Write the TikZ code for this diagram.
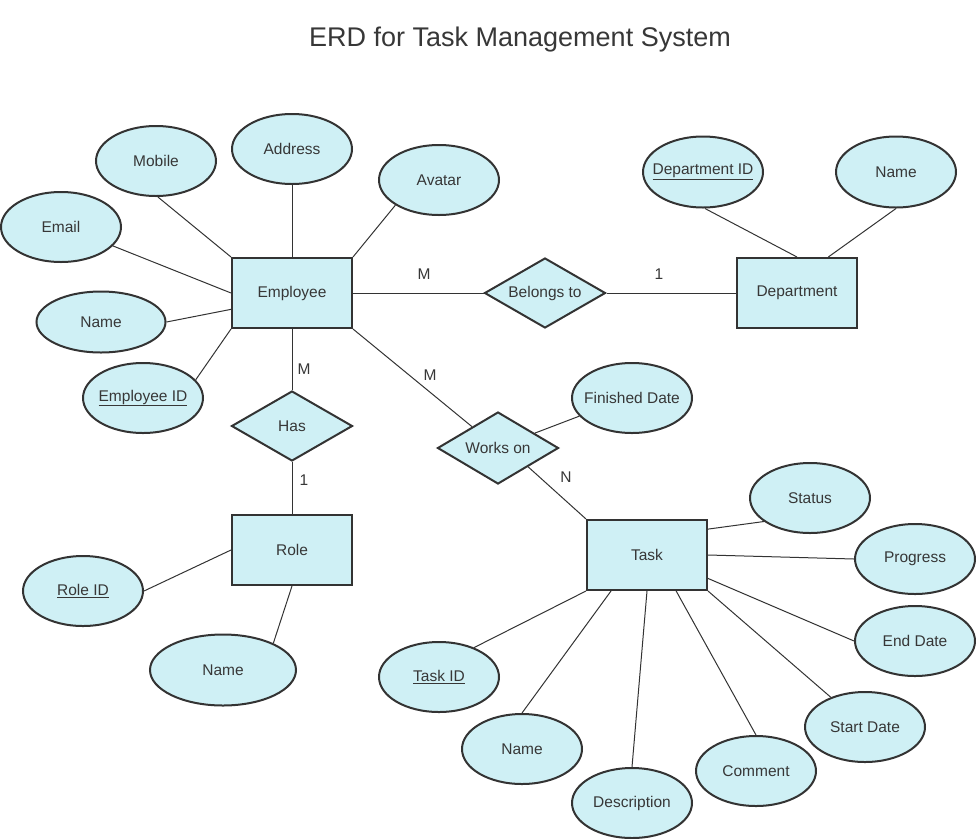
\documentclass[tikz,border=0pt]{standalone}
\usepackage{fontspec}
\setmainfont{Liberation Sans}
\usetikzlibrary{shapes.geometric}
\definecolor{fillc}{RGB}{207,240,245}
\definecolor{linec}{RGB}{51,51,51}
\definecolor{textc}{RGB}{55,55,55}
\newcommand{\zb}[1]{\makebox[0pt][c]{#1}}
\tikzset{
  base/.style={draw=linec, line width=2pt, fill=fillc, text=textc, inner sep=0pt, font=\fontsize{15.5}{18}\selectfont},
  entity/.style={base, rectangle, minimum width=120pt, minimum height=70pt},
  rel/.style={base, diamond, aspect=1.73, minimum width=121pt, minimum height=70pt},
  attr/.style={base, ellipse, minimum width=120pt, minimum height=70pt},
  conn/.style={draw=linec, line width=1pt},
  card/.style={text=textc, font=\fontsize{15.5}{18}\selectfont, inner sep=0pt}
}
\begin{document}
\begin{tikzpicture}[x=1pt, y=-1pt]
\useasboundingbox (0,0) rectangle (976,838);
\node[text=textc, font=\fontsize{27}{32}\selectfont] (title) at (520,40) {ERD for Task Management System};

% entities
\node[entity] (emp) at (292,293) {Employee};
\node[entity] (dept) at (797,293) {Department};
\node[entity] (role) at (292,550) {Role};
\node[entity] (task) at (647,555) {Task};

% relationships
\node[rel] (bel) at (545,293) {Belongs to};
\node[rel] (has) at (292,426) {Has};
\node[rel, minimum height=72pt] (works) at (498,448) {Works on};

% employee attributes
\node[attr] (mobile) at (156,161) {Mobile};
\node[attr] (address) at (292,149) {Address};
\node[attr] (avatar) at (439,180) {Avatar};
\node[attr] (email) at (61,227) {Email};
\node[attr, minimum width=129pt, minimum height=61pt] (ename) at (101,322) {Name};
\node[attr] (eid) at (143,398) {\zb{\underline{Employee ID}}};

% department attributes
\node[attr, minimum height=71pt] (did) at (703,172) {\zb{\underline{Department ID}}};
\node[attr, minimum height=71pt] (dname) at (896,172) {Name};

% works on attribute
\node[attr] (fin) at (632,398) {\zb{Finished Date}};

% task attributes
\node[attr] (status) at (810,498) {Status};
\node[attr] (progress) at (915,559) {Progress};
\node[attr] (enddate) at (915,641) {End Date};
\node[attr] (startdate) at (865,727) {Start Date};
\node[attr] (comment) at (756,771) {Comment};
\node[attr] (desc) at (632,803) {\zb{Description}};
\node[attr] (tname) at (522,749) {Name};
\node[attr] (tid) at (439,677) {\underline{Task ID}};

% role attributes
\node[attr] (rid) at (83,591) {\underline{Role ID}};
\node[attr, minimum width=146pt, minimum height=71pt] (rname) at (223,670) {Name};

% connectors: employee
\draw[conn] (emp.north west) -- (mobile.-87);
\draw[conn] (emp.north) -- (address.south);
\draw[conn] (emp.north east) -- (avatar.210);
\draw[conn] (emp.west) -- (email.-20);
\draw[conn] (emp.195) -- (ename.east);
\draw[conn] (emp.south west) -- (eid.19);
\draw[conn] (emp.east) -- (bel.west);
\draw[conn] (bel.east) -- (dept.west);
\draw[conn] (emp.south) -- (has.north);
\draw[conn] (has.south) -- (role.north);
\draw[conn] (emp.south east) -- (works);
\draw[conn] (works.-32) -- (task.north west);
\draw[conn] (works.22) -- (fin.199);
% department
\draw[conn] (dept.north) -- (did.-87);
\draw[conn] (dept.49) -- (dname.south);
% task
\draw[conn] (task.23) -- (status.207);
\draw[conn] (task.east) -- (progress.west);
\draw[conn] (task.-21) -- (enddate.west);
\draw[conn] (task.south east) -- (startdate.139);
\draw[conn] (task.-51) -- (comment.north);
\draw[conn] (task.south) -- (desc.north);
\draw[conn] (task.-135) -- (tname.north);
\draw[conn] (task.south west) -- (tid.40);
% role
\draw[conn] (role.west) -- (rid.east);
\draw[conn] (role.south) -- (rname.28);

% cardinalities
\node[card] (c1) at (424,274) {M};
\node[card] (c2) at (659,274) {1};
\node[card] (c3) at (304,369) {M};
\node[card] (c4) at (304,480) {1};
\node[card] (c5) at (430,375) {M};
\node[card] (c6) at (566,477) {N};
\end{tikzpicture}
\end{document}
